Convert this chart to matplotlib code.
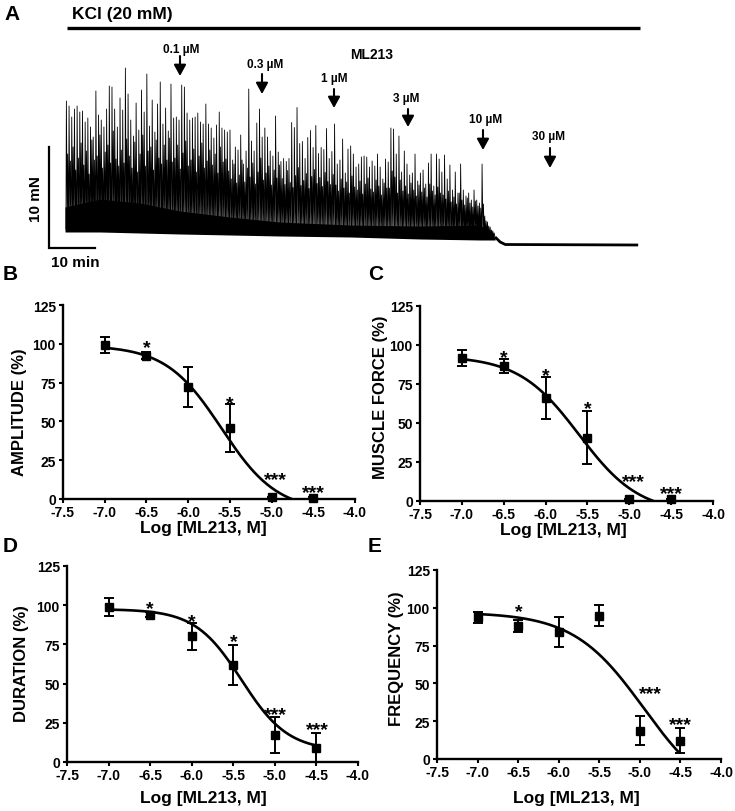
import matplotlib
matplotlib.use('Agg')
import matplotlib.pyplot as plt
import numpy as np

plt.rcParams['font.family'] = ['Liberation Sans', 'DejaVu Sans']
plt.rcParams['font.weight'] = 'bold'
plt.rcParams['axes.unicode_minus'] = False

# ---------------- data ----------------
log_conc = [-7.0, -6.5, -6.0, -5.5, -5.0, -4.5]
x_ticks = [-7.5, -7.0, -6.5, -6.0, -5.5, -5.0, -4.5, -4.0]
y_ticks = [0, 25, 50, 75, 100, 125]

amp_mean = [99.0, 92.4, 72.0, 45.5, 1.0, 0.5]
amp_err = [5.2, 2.0, 13.0, 15.5, 0.5, 0.5]
amp_fit = dict(top=99, bottom=-8, logic50=-5.6, hill=1.3, xmin=-7.0, xmax=-4.0)
amp_stars = [(-6.5, 100, '*'), (-5.5, 64, '*'), (-4.95, 15, '***'), (-4.5, 6.5, '***')]

force_mean = [91.7, 86.3, 66.0, 40.6, 1.0, 1.0]
force_err = [5.3, 4.5, 13.4, 17.0, 0.3, 0.3]
force_fit = dict(top=93, bottom=-8, logic50=-5.6, hill=1.2, xmin=-7.0, xmax=-4.0)
force_stars = [(-6.5, 94.4, '*'), (-6.0, 82.7, '*'), (-5.5, 61.8, '*'),
               (-4.95, 14.7, '***'), (-4.5, 6.8, '***')]

dur_mean = [98.8, 93.9, 80.2, 61.9, 17.3, 9.2]
dur_err = [5.9, 1.5, 8.6, 12.7, 11.6, 9.5]
dur_fit = dict(top=97.5, bottom=7, logic50=-5.4, hill=1.55, xmin=-7.0, xmax=-4.5)
dur_stars = [(-6.5, 100.3, '*'), (-6.0, 92, '*'), (-5.5, 79, '*'),
             (-4.99, 32.6, '***'), (-4.49, 23, '***')]

freq_mean = [93.7, 87.7, 84.2, 94.8, 18.7, 12.1]
freq_err = [3.5, 4.0, 10.0, 7.0, 9.7, 8.3]
freq_fit = dict(top=97, bottom=-30, logic50=-4.95, hill=1.0, xmin=-7.0, xmax=-4.53)
freq_stars = [(-6.49, 99.6, '*'), (-4.87, 45.9, '***'), (-4.5, 24.9, '***')]

# force trace (panel A): main spike peak heights above local baseline, mN, in 8 consecutive blocks
trace_peaks_1 = [12.8, 12.3, 11.2, 12.0, 12.3, 11.7, 11.8, 10.7, 11.1, 10.2, 9.2, 13.8, 11.4, 10.9, 10.2, 12.0, 14.3, 14.2, 12.0, 10.2]
trace_peaks_2 = [13.2, 12.0, 16.2, 13.6, 11.0, 9.4, 12.7, 10.0, 14.0, 11.8, 15.6, 10.4, 13.0, 9.8, 12.6, 14.8, 10.6, 12.2, 9.9, 14.6]
trace_peaks_3 = [11.3, 11.4, 11.1, 14.6, 14.4, 11.8, 11.1, 11.3, 11.4, 11.8, 10.9, 10.7, 12.7, 10.7, 10.3, 9.3, 10.6, 11.9, 10.3, 10.1]
trace_peaks_4 = [10.0, 10.2, 7.2, 8.5, 8.2, 9.7, 6.8, 8.1, 14.3, 9.1, 8.1, 10.9, 12.3, 9.5, 10.4, 9.5, 8.1, 7.6, 11.6, 8.0]
trace_peaks_5 = [7.2, 7.5, 7.2, 7.5, 11.1, 10.6, 12.6, 9.0, 9.2, 7.5, 9.6, 10.3, 8.6, 10.8, 8.0, 8.6, 8.4, 10.5, 7.5, 8.2]
trace_peaks_6 = [11.1, 7.1, 7.5, 9.6, 6.2, 8.6, 8.9, 8.1, 6.8, 7.1, 7.8, 7.9, 7.8, 6.8, 7.4, 6.9, 8.1, 6.8, 5.6, 7.6]
trace_peaks_7 = [7.4, 10.8, 10.7, 8.2, 10.0, 6.4, 8.5, 7.2, 6.1, 6.3, 8.2, 5.5, 6.3, 6.6, 5.2, 7.3, 8.2, 5.0, 8.2, 7.7]
trace_peaks_8 = [6.5, 8.2, 5.8, 7.2, 4.7, 6.5, 4.4, 7.3, 4.7, 4.1, 4.4, 3.7, 4.7, 3.7, 3.4, 7.3, 2.1, 1.5, 1.0, 0.6]
# smaller in-between contractions (one after each main spike), mN above baseline
trace_minor_1 = [7.5, 6.8, 8.2, 5.9, 7.1, 8.6, 6.4, 7.8, 5.5, 8.9, 6.9, 7.3, 9.4, 6.1, 7.7, 8.4, 6.6, 9.8, 7.0, 6.3]
trace_minor_2 = [8.0, 6.7, 9.1, 7.4, 6.2, 8.8, 5.8, 7.6, 9.5, 6.4, 7.9, 8.3, 6.0, 9.0, 7.2, 6.6, 8.5, 7.0, 9.2, 6.8]
trace_minor_3 = [7.3, 8.6, 6.2, 7.8, 9.0, 6.5, 7.1, 8.2, 5.9, 7.5, 8.8, 6.3, 7.0, 8.1, 6.6, 7.7, 5.8, 8.4, 6.9, 7.2]
trace_minor_4 = [6.1, 5.3, 6.8, 4.9, 5.7, 7.2, 5.0, 6.4, 5.5, 6.9, 4.8, 6.0, 7.4, 5.2, 5.9, 6.6, 4.7, 6.2, 5.4, 6.7]
trace_minor_5 = [5.5, 4.9, 6.3, 5.1, 4.6, 5.8, 6.6, 4.8, 5.3, 6.0, 4.5, 5.7, 6.4, 5.0, 5.6, 4.7, 6.1, 5.2, 4.9, 5.9]
trace_minor_6 = [5.0, 4.4, 5.6, 4.7, 5.3, 4.2, 5.9, 4.8, 4.5, 5.4, 4.1, 5.1, 5.7, 4.6, 4.3, 5.5, 4.9, 4.0, 5.2, 4.7]
trace_minor_7 = [4.8, 6.5, 5.9, 4.3, 5.6, 4.5, 5.0, 4.2, 5.3, 4.6, 4.0, 5.1, 4.4, 4.8, 3.9, 5.2, 4.5, 4.1, 4.9, 4.3]
trace_minor_8 = [4.2, 3.8, 4.6, 3.5, 4.0, 3.3, 4.4, 3.7, 3.2, 3.9, 3.4, 3.0, 3.6, 3.1, 2.9, 3.3, 1.6, 1.1, 0.7, 0.4]
trace_block_baseline = [1.6, 1.5, 1.4, 1.3, 1.15, 1.0, 0.9, 0.8]
trace_start_min, trace_active_end_min = 0.2, 93.5
band_t = [0.0, 7.6, 16.3, 25.0, 35.9, 46.7, 62.0, 77.2, 90.2, 92.4, 93.5]
band_top = [3.8, 4.6, 4.2, 3.4, 2.8, 2.3, 2.0, 1.9, 2.0, 1.4, 0.7]
band_bottom = [1.3, 1.3, 1.2, 1.1, 1.0, 0.9, 0.8, 0.6, 0.5, 0.5, 0.5]
tail_t = [93.5, 94.6, 95.7, 124.6]
tail_v = [0.8, 0.3, 0.05, 0.0]

doses = ['0.1 µM', '0.3 µM', '1 µM', '3 µM', '10 µM', '30 µM']

# ---------------- figure ----------------
W, H = 735, 812
fig = plt.figure(figsize=(W / 100, H / 100), dpi=100)


def fx(px):
    return px / W


def fy(py):
    return 1 - py / H


# ---- panel A ----
def tmin(px):
    return (px - 65) / 4.6


def fmn(py):
    return (246 - py) / 10.0


axA = fig.add_axes([fx(30), fy(260), (700 - 30) / W, (260 - 20) / H])
axA.set_xlim(tmin(30), tmin(700))
axA.set_ylim(fmn(260), fmn(20))
axA.axis('off')

blocks = [trace_peaks_1, trace_peaks_2, trace_peaks_3, trace_peaks_4,
          trace_peaks_5, trace_peaks_6, trace_peaks_7, trace_peaks_8]
minors = [trace_minor_1, trace_minor_2, trace_minor_3, trace_minor_4,
          trace_minor_5, trace_minor_6, trace_minor_7, trace_minor_8]
all_peaks = [p for b in blocks for p in b]
all_minor = [p for b in minors for p in b]
all_base = [trace_block_baseline[i] for i, b in enumerate(blocks) for _ in b]
spike_t = np.linspace(trace_start_min, trace_active_end_min - 0.6, len(all_peaks))
half = (spike_t[1] - spike_t[0]) / 2

axA.fill_between(band_t, band_bottom, band_top, color='black', lw=0)
xs, ys = [], []
for t, p, m, b in zip(spike_t, all_peaks, all_minor, all_base):
    xs += [t, t + 0.1, t + 0.28, t + half, t + half + 0.1, t + half + 0.28]
    ys += [b, b + p, b, b, b + m, b]
axA.plot(xs, ys, color='black', lw=0.6)
axA.plot(tail_t, tail_v, color='black', lw=2.0, solid_capstyle='butt')

# KCl bar
axA.plot([tmin(67), tmin(640)], [fmn(29), fmn(29)], color='black', lw=2.4,
         solid_capstyle='butt', clip_on=False)
axA.text(tmin(72), fmn(15), 'KCl (20 mM)', fontsize=12.5, fontweight='bold',
         ha='left', va='center')
axA.text(tmin(372), fmn(55), 'ML213', fontsize=10, fontweight='bold',
         ha='center', va='center')

arrow_x = [180, 262, 334, 408, 483, 550]
label_x = [181, 265, 334, 406, 486, 548]
label_y = [50, 65, 79, 99, 120, 137]
arrow_y0 = [57, 75, 90, 110, 131, 149]
arrow_y1 = [77, 95, 109, 128, 151, 169]
for lab, ax_, lx, ly, y0, y1 in zip(doses, arrow_x, label_x, label_y, arrow_y0, arrow_y1):
    axA.text(tmin(lx), fmn(ly), lab, fontsize=8.5, fontweight='bold', ha='center', va='center')
    axA.annotate('', xy=(tmin(ax_), fmn(y1)), xytext=(tmin(ax_), fmn(y0)),
                 arrowprops=dict(arrowstyle='-|>,head_length=0.55,head_width=0.3',
                                 lw=1.5, color='black', mutation_scale=12,
                                 shrinkA=0, shrinkB=0))

# scale bars
axA.plot([tmin(49), tmin(49), tmin(95)], [fmn(148), fmn(249), fmn(249)],
         color='black', lw=1.6, solid_joinstyle='miter', clip_on=False)
axA.text(tmin(36), fmn(199), '10 mN', rotation=90, fontsize=11, fontweight='bold',
         ha='center', va='center')
axA.text(tmin(75), fmn(263), '10 min', fontsize=11, fontweight='bold',
         ha='center', va='center', clip_on=False)

fig.text(fx(12), fy(15), 'A', fontsize=15, fontweight='bold', ha='center', va='center')


# ---- dose-response panels ----
def four_pl(x, p):
    return p['bottom'] + (p['top'] - p['bottom']) / (1 + 10 ** ((x - p['logic50']) * p['hill']))


def panel(rect_px, mean, err, fit, stars, ylabel, ylab_pos, xlab_pos, letter, letter_pos):
    x0, y0, x1, y1 = rect_px
    ax = fig.add_axes([fx(x0), fy(y1), (x1 - x0) / W, (y1 - y0) / H])
    ax.set_xlim(-7.5, -4.0)
    ax.set_ylim(0, 125)
    for s in ['top', 'right']:
        ax.spines[s].set_visible(False)
    for s in ['left', 'bottom']:
        ax.spines[s].set_linewidth(1.7)
    ax.set_xticks(x_ticks)
    ax.set_xticklabels(['%.1f' % v for v in x_ticks])
    ax.set_yticks(y_ticks)
    ax.tick_params(direction='out', length=3, width=1.5, labelsize=10)
    ax.tick_params(axis='x', pad=1.2)
    ax.tick_params(axis='y', pad=2.2)
    for lab in ax.get_xticklabels() + ax.get_yticklabels():
        lab.set_fontweight('bold')
    xc = np.linspace(fit['xmin'], fit['xmax'], 300)
    ax.plot(xc, four_pl(xc, fit), color='black', lw=1.9)
    ax.errorbar(log_conc, mean, yerr=err, fmt='none', ecolor='black',
                elinewidth=1.4, capsize=3.8, capthick=1.4)
    ax.plot(log_conc, mean, 's', color='black', ms=6, clip_on=False, zorder=5)
    fs = 14
    for sx, sy, st in stars:
        ax.annotate(st, xy=(sx, sy), xytext=(0, -0.42 * fs), textcoords='offset points',
                    ha='center', va='baseline', fontsize=fs, fontweight='bold')
    fig.text(fx(ylab_pos[0]), fy(ylab_pos[1]), ylabel, rotation=90, fontsize=12,
             fontweight='bold', ha='center', va='center')
    fig.text(fx(xlab_pos[0]), fy(xlab_pos[1]), 'Log [ML213, M]', fontsize=12.5,
             fontweight='bold', ha='center', va='center')
    fig.text(fx(letter_pos[0]), fy(letter_pos[1]), letter, fontsize=15,
             fontweight='bold', ha='center', va='center')
    return ax


panel((63, 306, 355, 500), amp_mean, amp_err, amp_fit, amp_stars, 'AMPLITUDE (%)',
      (20, 412), (203, 529), 'B', (10, 275))
panel((420, 307, 713, 502), force_mean, force_err, force_fit, force_stars, 'MUSCLE FORCE (%)',
      (380, 397), (563, 530), 'C', (376, 275))
panel((67, 567, 358, 763), dur_mean, dur_err, dur_fit, dur_stars, 'DURATION (%)',
      (22, 664), (203, 799), 'D', (10, 547))
panel((437, 571, 721, 760), freq_mean, freq_err, freq_fit, freq_stars, 'FREQUENCY (%)',
      (397, 659), (576, 799), 'E', (375, 547))

fig.savefig('out.png', dpi=100)
